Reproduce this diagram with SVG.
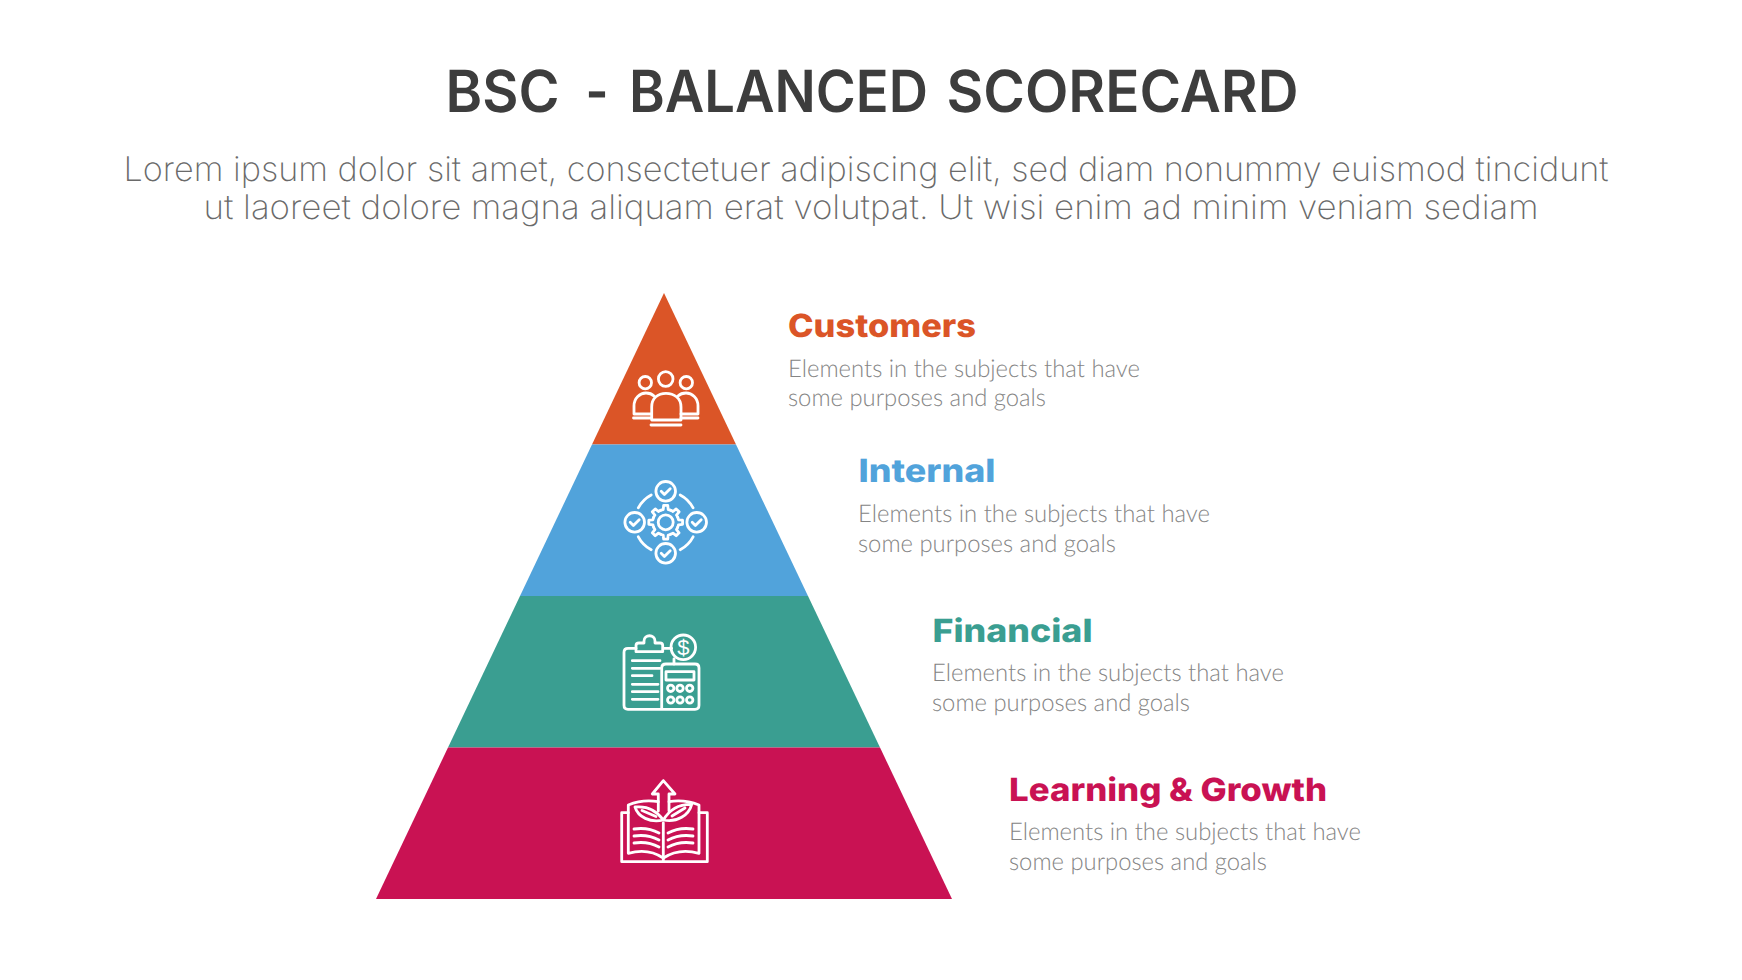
<svg xmlns="http://www.w3.org/2000/svg" xmlns:xlink="http://www.w3.org/1999/xlink" width="1742" height="980" viewBox="0 0 1742 980">
<style>
text{text-rendering:geometricPrecision}
.title{font:600 58px Inter,"Liberation Sans",sans-serif;fill:#3d3d3d}
.sub{font:200 34px Inter,"Liberation Sans",sans-serif;fill:#6a6a6a}
.head{font:800 32px Inter,"Liberation Sans",sans-serif}
.desc{font:300 24.5px Lato,"Liberation Sans",sans-serif;fill:#858585}
.ic{fill:none;stroke:#fff;stroke-width:2.8;stroke-linecap:round;stroke-linejoin:round}
.orange{fill:#db5527}.blue{fill:#51a3db}.teal{fill:#3a9e91}.red{fill:#c91253}
</style>
<defs>
<path id="tooth" d="M-4.97-12.01A13 13 0 0 1-2.48-12.76L-2.07-16.87H2.07L2.48-12.76A13 13 0 0 1 4.97-12.01"/>
<g id="chk"><circle r="9.8"/><path d="M-4.5 0L-1.300 3.200L4.500-2.600"/></g>
<circle id="btn" r="3.200"/>
</defs>
<rect width="1742" height="980" fill="#fff"/>
<text class="title" y="112"><tspan x="445.500" textLength="114" lengthAdjust="spacingAndGlyphs">BSC</tspan> <tspan x="585.500" textLength="23" lengthAdjust="spacingAndGlyphs">-</tspan> <tspan x="629" textLength="299" lengthAdjust="spacingAndGlyphs">BALANCED</tspan> <tspan x="946.500" textLength="352" lengthAdjust="spacingAndGlyphs">SCORECARD</tspan></text>
<text class="sub" x="866" y="181" text-anchor="middle" textLength="1485" lengthAdjust="spacingAndGlyphs">Lorem ipsum dolor sit amet, consectetuer adipiscing elit, sed diam nonummy euismod tincidunt</text>
<text class="sub" x="871" y="219" text-anchor="middle" textLength="1335" lengthAdjust="spacingAndGlyphs">ut laoreet dolore magna aliquam erat volutpat. Ut wisi enim ad minim veniam sediam</text>

<g id="node-customers">
<polygon class="orange" points="664,293 736,444.500 592,444.500"/>
<g class="ic">
<circle cx="665.700" cy="379" r="7.300"/><circle cx="645.300" cy="382.700" r="6.200"/><circle cx="686.300" cy="382.700" r="6.200"/>
<path d="M651.700 420V407C651.700 398 658 393.300 666 393.300C674 393.300 681 398 681 407V420Z"/>
<path d="M651 425H681"/>
<path d="M651 414H634V406C634 398 640 393 646 393C649 393 652 394 654 396"/>
<path d="M681 414H698V406C698 398 692 393 686 393C683 393 680 394 678 396"/>
<path d="M633.500 418H651M681 418H698"/>
</g>
<text class="head orange" x="788" y="337" textLength="188" lengthAdjust="spacingAndGlyphs">Customers</text>
<text class="desc" x="788" y="376.500" textLength="352" lengthAdjust="spacingAndGlyphs">Elements in the subjects that have</text>
<text class="desc" x="788" y="406" textLength="258" lengthAdjust="spacingAndGlyphs">some purposes and goals</text>
</g>

<g id="node-internal">
<polygon class="blue" points="592,444.500 736,444.500 808,596 520,596"/>
<g class="ic" transform="translate(665.700 522.300)">
<circle r="7.500"/>
<use xlink:href="#tooth"/><use xlink:href="#tooth" transform="rotate(45)"/><use xlink:href="#tooth" transform="rotate(90)"/><use xlink:href="#tooth" transform="rotate(135)"/><use xlink:href="#tooth" transform="rotate(180)"/><use xlink:href="#tooth" transform="rotate(225)"/><use xlink:href="#tooth" transform="rotate(270)"/><use xlink:href="#tooth" transform="rotate(315)"/>
<use xlink:href="#chk" y="-31"/><use xlink:href="#chk" y="31"/><use xlink:href="#chk" x="-31"/><use xlink:href="#chk" x="31"/>
<path d="M14.500-27.400A31 31 0 0 1 27.400-14.500M27.400 14.500A31 31 0 0 1 14.500 27.400M-14.500 27.400A31 31 0 0 1-27.400 14.500M-27.400-14.500A31 31 0 0 1-14.500-27.400"/>
</g>
<text class="head blue" x="858.500" y="482" textLength="137" lengthAdjust="spacingAndGlyphs">Internal</text>
<text class="desc" x="858" y="522" textLength="352" lengthAdjust="spacingAndGlyphs">Elements in the subjects that have</text>
<text class="desc" x="858" y="551.500" textLength="258" lengthAdjust="spacingAndGlyphs">some purposes and goals</text>
</g>

<g id="node-financial">
<polygon class="teal" points="520,596 808,596 880,747.500 448,747.500"/>
<g class="ic">
<path d="M636 648.300H628Q624 648.300 624 652.300V705.300Q624 709.300 628 709.300H695Q699 709.300 699 705.300V668Q699 664 695 664H666Q661.700 664 661.700 668V709.300"/>
<path d="M636 651.700V645.500Q636 643 639 643H644V641C644 634 655 634 655 641V643H660Q662.700 643 662.700 645.500V651.700ZM662.700 648.300H671.700"/>
<circle cx="683.300" cy="647.300" r="12.300"/>
<path d="M674 659V664"/>
<rect x="666" y="671.700" width="28" height="8.300"/>
<use xlink:href="#btn" x="670.700" y="688.300"/><use xlink:href="#btn" x="680" y="688.300"/><use xlink:href="#btn" x="689.700" y="688.300"/>
<use xlink:href="#btn" x="670.700" y="700"/><use xlink:href="#btn" x="680" y="700"/><use xlink:href="#btn" x="689.700" y="700"/>
<path d="M632.300 660.700H660M632.300 668.300H660M632.300 675.700H652M632.300 684.300H658M632.300 691.700H658M632.300 699.300H658"/>
</g>
<text x="683.300" y="655" text-anchor="middle" fill="#fff" font-family="Liberation Sans, sans-serif" font-size="22">$</text>
<text class="head teal" x="932.500" y="642" textLength="160" lengthAdjust="spacingAndGlyphs">Financial</text>
<text class="desc" x="932" y="681" textLength="352" lengthAdjust="spacingAndGlyphs">Elements in the subjects that have</text>
<text class="desc" x="932" y="710.500" textLength="258" lengthAdjust="spacingAndGlyphs">some purposes and goals</text>
</g>

<g id="node-learning">
<polygon class="red" points="448,747.500 880,747.500 952,899 376,899"/>
<g class="ic">
<path d="M663.300 780.700L652.300 794H658.300V811M663.300 780.700L675 794H669V811"/>
<path d="M628.300 812.700H621.700V861.700H707.300V812.700H699"/>
<path d="M658.300 801.700C648 800 638 801 628.300 805V853.300C640 850 653 851 663.300 858C674 851 687 850 699 853.300V805C689 801 679 800 669 801.700"/>
<path d="M663.300 823V861.700"/>
<path d="M663.300 820C655 808 645 806 635 807C638 817 650 823 663.300 820ZM642 810.500L656 816.500M663.300 820C671 807 681 804 691.700 804.300C689 815 677 823 663.300 820ZM672 816L685 808"/>
<path d="M634 829Q648 827 659 833M634 836Q648 834 659 840M634 843Q648 841 659 847M693 829Q679 827 668 833M693 836Q679 834 668 840M693 843Q679 841 668 847"/>
</g>
<text class="head red" x="1009" y="801" textLength="318" lengthAdjust="spacingAndGlyphs">Learning &amp; Growth</text>
<text class="desc" x="1009" y="840" textLength="352" lengthAdjust="spacingAndGlyphs">Elements in the subjects that have</text>
<text class="desc" x="1009" y="869.500" textLength="258" lengthAdjust="spacingAndGlyphs">some purposes and goals</text>
</g>
<g id="connectors"></g>
</svg>
